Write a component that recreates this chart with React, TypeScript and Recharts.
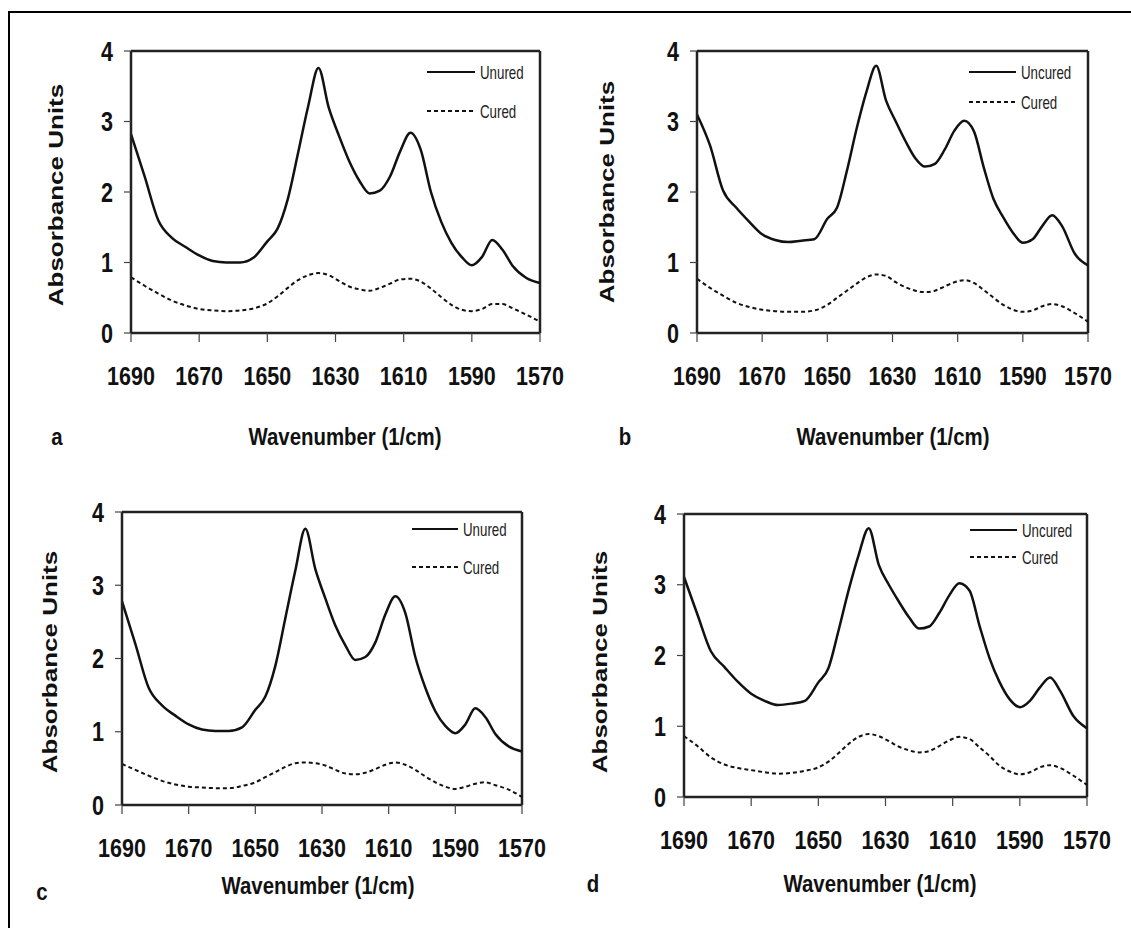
import React from 'react';
import { LineChart, Line, XAxis, YAxis, ReferenceLine } from 'recharts';

// wavenumber grid (1/cm), high to low as drawn
const WAVENUMBERS = [
  1690, 1686, 1682, 1678, 1674, 1670, 1666, 1662, 1658, 1654, 1650, 1647, 1644,
  1641, 1638, 1635, 1632, 1629, 1626, 1623, 1620, 1617, 1614, 1611, 1608, 1605,
  1602, 1599, 1596, 1593, 1590, 1587, 1584, 1581, 1578, 1574, 1570,
];

const A_UNCURED = [
  2.82, 2.22, 1.6, 1.35, 1.22, 1.1, 1.02, 1.0, 1.0, 1.07, 1.3, 1.48, 1.9,
  2.55, 3.22, 3.76, 3.2, 2.8, 2.44, 2.16, 1.98, 2.02, 2.22, 2.58, 2.84, 2.6,
  2.0, 1.58, 1.28, 1.08, 0.96, 1.08, 1.32, 1.18, 0.95, 0.78, 0.71,
];
const A_CURED = [
  0.79, 0.67, 0.56, 0.46, 0.39, 0.34, 0.32, 0.31, 0.32, 0.35, 0.42, 0.52, 0.64,
  0.75, 0.82, 0.85, 0.82, 0.74, 0.66, 0.62, 0.6, 0.64, 0.7, 0.76, 0.77, 0.73,
  0.63, 0.51, 0.4, 0.33, 0.31, 0.34, 0.41, 0.41, 0.35, 0.26, 0.16,
];

const B_UNCURED = [
  3.1, 2.66, 2.02, 1.78, 1.58, 1.4, 1.32, 1.29, 1.31, 1.33, 1.62, 1.78, 2.3,
  2.9, 3.42, 3.79, 3.3, 3.0, 2.72, 2.48, 2.36, 2.4, 2.6, 2.87, 3.01, 2.86,
  2.35, 1.9, 1.64, 1.42, 1.28, 1.33, 1.52, 1.67, 1.52, 1.12, 0.96,
];
const B_CURED = [
  0.77, 0.64, 0.53, 0.43, 0.37, 0.33, 0.31, 0.3, 0.3, 0.32, 0.4, 0.5, 0.6,
  0.7, 0.79, 0.83, 0.81, 0.72, 0.65, 0.6, 0.58, 0.6, 0.66, 0.72, 0.75, 0.71,
  0.61, 0.5, 0.4, 0.33, 0.3, 0.32, 0.38, 0.41, 0.38, 0.28, 0.16,
];

const C_UNCURED = [
  2.78, 2.2, 1.6, 1.36, 1.22, 1.1, 1.03, 1.01, 1.01, 1.06, 1.3, 1.48, 1.9,
  2.55, 3.2, 3.77, 3.22, 2.82, 2.45, 2.18, 1.98, 2.02, 2.22, 2.6, 2.85, 2.62,
  2.02, 1.6, 1.28, 1.08, 0.98, 1.1, 1.32, 1.2, 0.97, 0.8, 0.73,
];
const C_CURED = [
  0.56, 0.48, 0.4, 0.33, 0.28, 0.25, 0.24, 0.23, 0.23, 0.26, 0.31, 0.38, 0.45,
  0.52, 0.57, 0.58, 0.57, 0.54, 0.48, 0.43, 0.42, 0.44, 0.49, 0.55, 0.58, 0.55,
  0.48, 0.39, 0.31, 0.25, 0.22, 0.25, 0.29, 0.31, 0.27, 0.21, 0.11,
];

const D_UNCURED = [
  3.11, 2.58, 2.06, 1.84, 1.63, 1.46, 1.36, 1.3, 1.32, 1.36, 1.62, 1.82, 2.35,
  2.92, 3.42, 3.8, 3.28, 3.0, 2.76, 2.54, 2.38, 2.41, 2.6, 2.85, 3.02, 2.92,
  2.42, 1.96, 1.62, 1.38, 1.27, 1.36, 1.55, 1.69, 1.5, 1.14, 0.97,
];
const D_CURED = [
  0.86, 0.72, 0.56, 0.46, 0.41, 0.38, 0.35, 0.33, 0.34, 0.37, 0.42, 0.5, 0.62,
  0.75, 0.85, 0.89, 0.86, 0.79, 0.71, 0.66, 0.63, 0.65, 0.72, 0.8, 0.85, 0.82,
  0.7, 0.58, 0.44, 0.36, 0.32, 0.35, 0.42, 0.45, 0.41, 0.3, 0.17,
];

const X_TICKS = [1690, 1670, 1650, 1630, 1610, 1590, 1570];
const Y_TICKS = [0, 1, 2, 3, 4];

const FONT = '"Liberation Sans", Arial, sans-serif';
const INK = '#111';

type Box = { left: number; top: number; width: number; height: number };
type Pt = { x: number; y: number };

interface PanelSpec {
  letter: string;
  uncuredName: string;
  uncured: number[];
  cured: number[];
  plot: Box;
  legend: { x1: number; x2: number; y1: number; y2: number };
  letterAt: Pt;
  xTitleAt: Pt;
  yTitleAt: Pt;
}

const PANELS: PanelSpec[] = [
  {
    letter: 'a', uncuredName: 'Unured', uncured: A_UNCURED, cured: A_CURED,
    plot: { left: 131, top: 51, width: 409, height: 282 },
    legend: { x1: 427, x2: 475, y1: 72, y2: 111 },
    letterAt: { x: 57, y: 437 }, xTitleAt: { x: 345, y: 437 }, yTitleAt: { x: 56, y: 195 },
  },
  {
    letter: 'b', uncuredName: 'Uncured', uncured: B_UNCURED, cured: B_CURED,
    plot: { left: 697, top: 51, width: 391, height: 282 },
    legend: { x1: 969, x2: 1016, y1: 72, y2: 102 },
    letterAt: { x: 625, y: 437 }, xTitleAt: { x: 893, y: 437 }, yTitleAt: { x: 607, y: 192 },
  },
  {
    letter: 'c', uncuredName: 'Unured', uncured: C_UNCURED, cured: C_CURED,
    plot: { left: 122, top: 512, width: 400, height: 293 },
    legend: { x1: 412, x2: 458, y1: 529, y2: 567 },
    letterAt: { x: 42, y: 892 }, xTitleAt: { x: 318, y: 886 }, yTitleAt: { x: 50, y: 662 },
  },
  {
    letter: 'd', uncuredName: 'Uncured', uncured: D_UNCURED, cured: D_CURED,
    plot: { left: 684, top: 514, width: 403, height: 283 },
    legend: { x1: 970, x2: 1017, y1: 530, y2: 557 },
    letterAt: { x: 593, y: 884 }, xTitleAt: { x: 880, y: 884 }, yTitleAt: { x: 600, y: 662 },
  },
];

const Y_AXIS_W = 70;
const PAD_TOP = 24;
const PAD_RIGHT = 40;
const X_AXIS_H = 60;

// condensed bold tick labels
const XTick = (props: any) => {
  const { x, y, payload } = props;
  return (
    <g transform={`translate(${x},${y})`}>
      <text transform="scale(0.86,1)" textAnchor="middle" dy="0.71em" fontSize={25}
        fontWeight="bold" fontFamily={FONT} fill={INK}>
        {payload.value}
      </text>
    </g>
  );
};

const YTick = (props: any) => {
  const { x, y, payload } = props;
  return (
    <g transform={`translate(${x},${y})`}>
      <text transform="scale(0.8,1)" textAnchor="end" dy="0.355em" fontSize={27}
        fontWeight="bold" fontFamily={FONT} fill={INK}>
        {payload.value}
      </text>
    </g>
  );
};

function Label({ at, text, size, bold, squeeze, rotate }: {
  at: Pt; text: string; size: number; bold?: boolean; squeeze: number; rotate?: boolean;
}) {
  return (
    <div
      style={{
        position: 'absolute', left: at.x, top: at.y, whiteSpace: 'nowrap',
        fontFamily: FONT, fontSize: size, fontWeight: bold ? 'bold' : 'normal', color: INK,
        lineHeight: 1,
        transform: `translate(-50%, -50%) scaleX(${squeeze})${rotate ? ' rotate(-90deg)' : ''}`,
      }}
    >
      {text}
    </div>
  );
}

function LegendRow({ x1, x2, y, dashed, text }: {
  x1: number; x2: number; y: number; dashed?: boolean; text: string;
}) {
  return (
    <>
      <svg style={{ position: 'absolute', left: x1, top: y - 3 }} width={x2 - x1} height={6}>
        <line x1={0} x2={x2 - x1} y1={3} y2={3} stroke={INK} strokeWidth={2}
          strokeDasharray={dashed ? '4 3' : undefined} />
      </svg>
      <div
        style={{
          position: 'absolute', left: x2 + 5, top: y, whiteSpace: 'nowrap',
          fontFamily: FONT, fontSize: 19, color: '#222', lineHeight: 1,
          transform: 'translateY(-50%) scaleX(0.7)', transformOrigin: 'left center',
        }}
      >
        {text}
      </div>
    </>
  );
}

function SpectrumPanel({ spec }: { spec: PanelSpec }) {
  const { plot } = spec;
  const rows = WAVENUMBERS.map((w, i) => ({ w, uncured: spec.uncured[i], cured: spec.cured[i] }));
  const width = Y_AXIS_W + plot.width + PAD_RIGHT;
  const height = PAD_TOP + plot.height + X_AXIS_H;

  return (
    <>
      <div style={{ position: 'absolute', left: plot.left - Y_AXIS_W, top: plot.top - PAD_TOP }}>
        <LineChart width={width} height={height} data={rows}
          margin={{ top: PAD_TOP, right: PAD_RIGHT, bottom: 0, left: 0 }}>
          <XAxis dataKey="w" type="number" domain={[1570, 1690]} reversed ticks={X_TICKS}
            height={X_AXIS_H} tick={XTick} tickSize={9} tickMargin={25}
            axisLine={{ stroke: '#222', strokeWidth: 2.5 }} tickLine={{ stroke: '#444', strokeWidth: 1.2 }} />
          <YAxis type="number" domain={[0, 4]} ticks={Y_TICKS} width={Y_AXIS_W}
            tick={YTick} tickSize={7} tickMargin={11}
            axisLine={{ stroke: '#222', strokeWidth: 2.5 }} tickLine={{ stroke: '#444', strokeWidth: 1.2 }} />
          <ReferenceLine y={4} stroke="#222" strokeWidth={2.5} />
          <ReferenceLine x={1570} stroke="#222" strokeWidth={2.5} />
          <Line dataKey="uncured" type="monotone" stroke={INK} strokeWidth={2.5} dot={false}
            isAnimationActive={false} />
          <Line dataKey="cured" type="monotone" stroke={INK} strokeWidth={2} strokeDasharray="4 3"
            dot={false} isAnimationActive={false} />
        </LineChart>
      </div>
      <LegendRow x1={spec.legend.x1} x2={spec.legend.x2} y={spec.legend.y1} text={spec.uncuredName} />
      <LegendRow x1={spec.legend.x1} x2={spec.legend.x2} y={spec.legend.y2} dashed text="Cured" />
      <Label at={spec.yTitleAt} text="Absorbance Units" size={26} bold squeeze={0.8} rotate />
      <Label at={spec.xTitleAt} text="Wavenumber (1/cm)" size={24} bold squeeze={0.85} />
      <Label at={spec.letterAt} text={spec.letter} size={24} bold squeeze={0.85} />
    </>
  );
}

export default function App() {
  return (
    <div style={{ position: 'fixed', left: 0, top: 0, width: 1131, height: 928, overflow: 'hidden', background: '#fff' }}>
      <div style={{ position: 'absolute', left: 8, top: 11, width: 1140, height: 940, border: '2.5px solid #000' }} />
      {PANELS.map((p) => (
        <SpectrumPanel key={p.letter} spec={p} />
      ))}
    </div>
  );
}
